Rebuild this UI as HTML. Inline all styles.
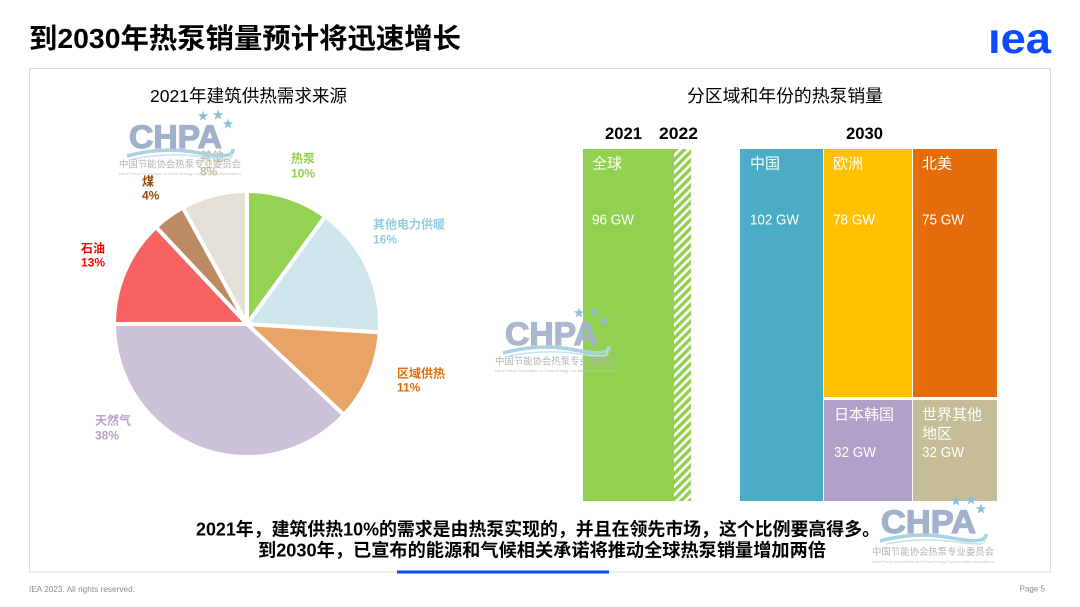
<!DOCTYPE html>
<html>
<head>
<meta charset="utf-8">
<style>
html,body{margin:0;padding:0;background:#fff;}
svg{display:block;}
text{font-family:"Liberation Sans","Noto Sans CJK SC",sans-serif;}
</style>
</head>
<body>
<svg width="1080" height="607" viewBox="0 0 1080 607" xmlns="http://www.w3.org/2000/svg">
<defs>
<pattern id="hatch" patternUnits="userSpaceOnUse" width="6" height="6" patternTransform="rotate(45)">
<rect width="6" height="6" fill="#ffffff"/>
<rect width="3.4" height="6" fill="#92d050"/>
</pattern>
</defs>

<!-- Title -->
<text x="29" y="48" font-size="28" font-weight="bold" fill="#000" textLength="432" lengthAdjust="spacingAndGlyphs">到2030年热泵销量预计将迅速增长</text>

<!-- IEA logo -->
<text x="988" y="53" font-size="43" font-weight="bold" fill="#0a4bff" textLength="63" lengthAdjust="spacingAndGlyphs">ıea</text>

<!-- Frame -->
<rect x="29.5" y="68.5" width="1021" height="503.5" fill="none" stroke="#dedede" stroke-width="1"/>
<rect x="397" y="570.5" width="212" height="3" fill="#0a4bff"/>

<!-- Pie title -->
<text x="150" y="102" font-size="17.5" fill="#000" textLength="197" lengthAdjust="spacingAndGlyphs">2021年建筑供热需求来源</text>

<!-- Pie -->
<g stroke="#fff" stroke-width="4" stroke-linejoin="round">
<path d="M247,324 L247,191 A133,133 0 0 1 325.2,216.4 Z" fill="#95d153"/>
<path d="M247,324 L325.2,216.4 A133,133 0 0 1 379.7,332.4 Z" fill="#cfe5ec"/>
<path d="M247,324 L379.7,332.4 A133,133 0 0 1 344.0,415.0 Z" fill="#e8a366"/>
<path d="M247,324 L344.0,415.0 A133,133 0 0 1 114,324 Z" fill="#cbc2d8"/>
<path d="M247,324 L114,324 A133,133 0 0 1 156.0,227.0 Z" fill="#f96262"/>
<path d="M247,324 L156.0,227.0 A133,133 0 0 1 182.9,207.5 Z" fill="#bc8b63"/>
<path d="M247,324 L182.9,207.5 A133,133 0 0 1 247,191 Z" fill="#e3e0d6"/>
</g>

<!-- Pie labels -->
<g font-size="12" font-weight="bold">
<text x="291" y="162.5" fill="#92d050">热泵</text>
<text x="291" y="177.5" fill="#92d050">10%</text>
<text x="373" y="228.5" fill="#93cddd">其他电力供暖</text>
<text x="373" y="243.5" fill="#93cddd">16%</text>
<text x="397" y="377.5" fill="#e46c0a">区域供热</text>
<text x="397" y="391.5" fill="#e46c0a">11%</text>
<text x="95" y="424.5" fill="#b3a2c7">天然气</text>
<text x="95" y="439.5" fill="#b3a2c7">38%</text>
<text x="81" y="252.5" fill="#ff0000">石油</text>
<text x="81" y="266.5" fill="#ff0000">13%</text>
<text x="142" y="185.5" fill="#984807">煤</text>
<text x="142" y="199.5" fill="#984807">4%</text>
<text x="200" y="160.5" fill="#c4bd97">其他</text>
<text x="200" y="175.5" fill="#c4bd97">8%</text>
</g>

<!-- Right chart title -->
<text x="687" y="102" font-size="17.8" fill="#000" textLength="196" lengthAdjust="spacingAndGlyphs">分区域和年份的热泵销量</text>

<!-- Year labels -->
<g font-size="16.7" font-weight="bold" fill="#000">
<text x="605" y="139" textLength="37" lengthAdjust="spacingAndGlyphs">2021</text>
<text x="659" y="139" textLength="39" lengthAdjust="spacingAndGlyphs">2022</text>
<text x="846" y="139" textLength="37" lengthAdjust="spacingAndGlyphs">2030</text>
</g>

<!-- Bars -->
<rect x="583" y="149" width="91" height="352" fill="#92d050"/>
<rect x="674" y="149" width="17" height="352" fill="url(#hatch)"/>
<rect x="740" y="149" width="83" height="352" fill="#4bacc6"/>
<rect x="824" y="149" width="88" height="248" fill="#ffc000"/>
<rect x="913" y="149" width="84" height="248" fill="#e46c0a"/>
<rect x="824" y="400" width="88" height="101" fill="#b1a0c7"/>
<rect x="913" y="400" width="84" height="101" fill="#c4bd97"/>

<!-- Bar labels -->
<g font-size="15" fill="#fff">
<text x="592" y="168.5">全球</text>
<text x="592" y="224.5" textLength="42" lengthAdjust="spacingAndGlyphs">96 GW</text>
<text x="750" y="168.5">中国</text>
<text x="750" y="224.5" textLength="49" lengthAdjust="spacingAndGlyphs">102 GW</text>
<text x="833" y="168.5">欧洲</text>
<text x="833" y="224.5" textLength="42" lengthAdjust="spacingAndGlyphs">78 GW</text>
<text x="922" y="168.5">北美</text>
<text x="922" y="224.5" textLength="42" lengthAdjust="spacingAndGlyphs">75 GW</text>
<text x="834" y="419.5">日本韩国</text>
<text x="834" y="457" textLength="42" lengthAdjust="spacingAndGlyphs">32 GW</text>
<text x="922" y="419.5">世界其他</text>
<text x="922" y="438.5">地区</text>
<text x="922" y="457" textLength="42" lengthAdjust="spacingAndGlyphs">32 GW</text>
</g>

<!-- Watermark 1 -->
<g transform="translate(119,125)">
<text x="10" y="23" font-size="32" font-weight="bold" fill="#a2b1cb" stroke="#a2b1cb" stroke-width="1.2" textLength="93" lengthAdjust="spacingAndGlyphs">CHPA</text>
<path d="M8,31 Q45,21 80,28 T114,24" fill="none" stroke="#a9d3e3" stroke-width="3.5"/>
<path d="M14,34 Q50,27 84,32 T112,29" fill="none" stroke="#c7e3ec" stroke-width="1.5"/>
<g fill="#8fbcd8">
<polygon transform="translate(84,-9) scale(5.5)" points="0,-1 0.235,-0.324 0.951,-0.309 0.38,0.124 0.588,0.809 0,0.4 -0.588,0.809 -0.38,0.124 -0.951,-0.309 -0.235,-0.324"/>
<polygon transform="translate(99,-10) scale(5.5)" points="0,-1 0.235,-0.324 0.951,-0.309 0.38,0.124 0.588,0.809 0,0.4 -0.588,0.809 -0.38,0.124 -0.951,-0.309 -0.235,-0.324"/>
<polygon transform="translate(109,-1) scale(5.5)" points="0,-1 0.235,-0.324 0.951,-0.309 0.38,0.124 0.588,0.809 0,0.4 -0.588,0.809 -0.38,0.124 -0.951,-0.309 -0.235,-0.324"/>
</g>
<text x="0" y="42.5" font-size="9.4" fill="#b2b2b2" textLength="122" lengthAdjust="spacingAndGlyphs">中国节能协会热泵专业委员会</text>
<text x="0" y="50" font-size="4" fill="#c2c2c2" textLength="122" lengthAdjust="spacingAndGlyphs">Heat Pump Committee of China Energy Conservation Association</text>
</g>

<!-- Watermark 2 -->
<g transform="translate(495,322)">
<text x="10" y="23" font-size="32" font-weight="bold" fill="#a2b1cb" stroke="#a2b1cb" stroke-width="1.2" textLength="93" lengthAdjust="spacingAndGlyphs" opacity="0.92">CHPA</text>
<path d="M8,31 Q45,21 80,28 T114,24" fill="none" stroke="#a9d3e3" stroke-width="3.5"/>
<path d="M14,34 Q50,27 84,32 T112,29" fill="none" stroke="#c7e3ec" stroke-width="1.5"/>
<g fill="#8fbcd8">
<polygon transform="translate(84,-9) scale(5.5)" points="0,-1 0.235,-0.324 0.951,-0.309 0.38,0.124 0.588,0.809 0,0.4 -0.588,0.809 -0.38,0.124 -0.951,-0.309 -0.235,-0.324"/>
<polygon transform="translate(99,-10) scale(5.5)" points="0,-1 0.235,-0.324 0.951,-0.309 0.38,0.124 0.588,0.809 0,0.4 -0.588,0.809 -0.38,0.124 -0.951,-0.309 -0.235,-0.324"/>
<polygon transform="translate(109,-1) scale(5.5)" points="0,-1 0.235,-0.324 0.951,-0.309 0.38,0.124 0.588,0.809 0,0.4 -0.588,0.809 -0.38,0.124 -0.951,-0.309 -0.235,-0.324"/>
</g>
<text x="0" y="42.5" font-size="9.4" fill="#b2b2b2" textLength="122" lengthAdjust="spacingAndGlyphs">中国节能协会热泵专业委员会</text>
<text x="0" y="50" font-size="4" fill="#c2c2c2" textLength="122" lengthAdjust="spacingAndGlyphs">Heat Pump Committee of China Energy Conservation Association</text>
</g>

<!-- Bottom summary -->
<g font-size="18" font-weight="bold" fill="#000">
<text x="196" y="535.5" textLength="684" lengthAdjust="spacingAndGlyphs">2021年，建筑供热10%的需求是由热泵实现的，并且在领先市场，这个比例要高得多。</text>
<text x="258" y="556.5" textLength="568" lengthAdjust="spacingAndGlyphs">到2030年，已宣布的能源和气候相关承诺将推动全球热泵销量增加两倍</text>
</g>

<!-- Watermark 3 -->
<g transform="translate(872,510)">
<text x="9" y="23" font-size="32" font-weight="bold" fill="#a2b1cb" stroke="#a2b1cb" stroke-width="1.2" textLength="95" lengthAdjust="spacingAndGlyphs">CHPA</text>
<path d="M8,31 Q45,21 80,28 T114,24" fill="none" stroke="#a9d3e3" stroke-width="3.5"/>
<path d="M14,34 Q50,27 84,32 T112,29" fill="none" stroke="#c7e3ec" stroke-width="1.5"/>
<g fill="#8fbcd8">
<polygon transform="translate(84,-9) scale(5.5)" points="0,-1 0.235,-0.324 0.951,-0.309 0.38,0.124 0.588,0.809 0,0.4 -0.588,0.809 -0.38,0.124 -0.951,-0.309 -0.235,-0.324"/>
<polygon transform="translate(99,-10) scale(5.5)" points="0,-1 0.235,-0.324 0.951,-0.309 0.38,0.124 0.588,0.809 0,0.4 -0.588,0.809 -0.38,0.124 -0.951,-0.309 -0.235,-0.324"/>
<polygon transform="translate(109,-1) scale(5.5)" points="0,-1 0.235,-0.324 0.951,-0.309 0.38,0.124 0.588,0.809 0,0.4 -0.588,0.809 -0.38,0.124 -0.951,-0.309 -0.235,-0.324"/>
</g>
<text x="0" y="45" font-size="9.4" fill="#b2b2b2" textLength="122" lengthAdjust="spacingAndGlyphs">中国节能协会热泵专业委员会</text>
<text x="0" y="53" font-size="4" fill="#c2c2c2" textLength="122" lengthAdjust="spacingAndGlyphs">Heat Pump Committee of China Energy Conservation Association</text>
</g>

<!-- Footer -->
<text x="29" y="592" font-size="8" fill="#8c8c8c" textLength="106" lengthAdjust="spacingAndGlyphs">IEA 2023. All rights reserved.</text>
<text x="1045" y="591.5" font-size="8" fill="#8c8c8c" text-anchor="end">Page 5</text>
</svg>
</body>
</html>
